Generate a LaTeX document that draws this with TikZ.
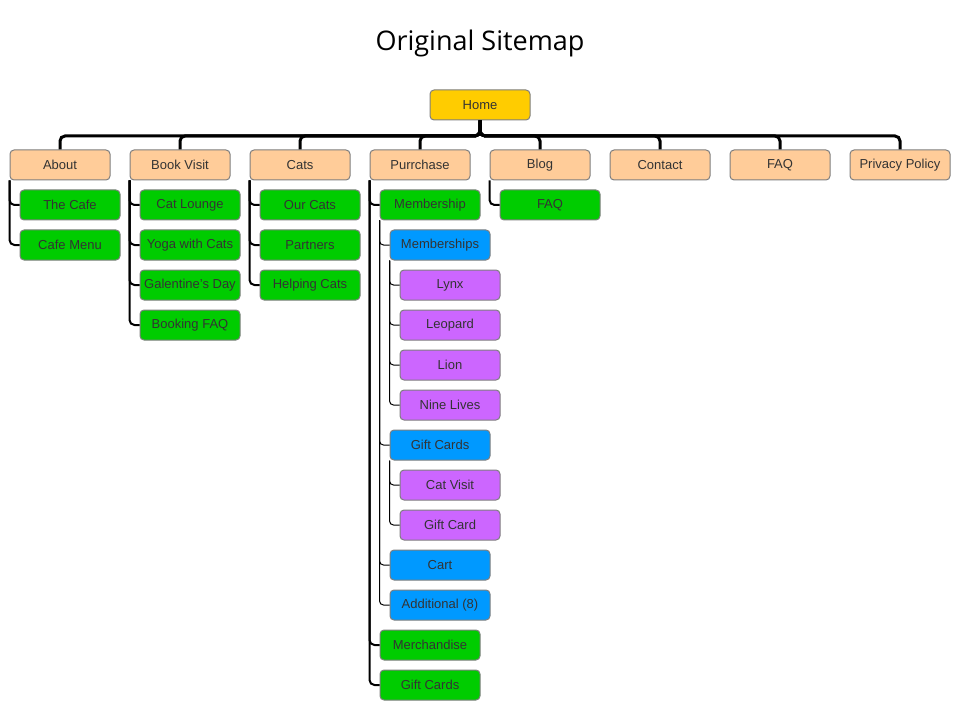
\documentclass[tikz,border=0pt]{standalone}
\usepackage{fontspec}
\setmainfont{Liberation Sans}
\newfontfamily\titlefont{Open Sans}
\usetikzlibrary{calc}
\definecolor{homefill}{HTML}{FFCC00}
\definecolor{topfill}{HTML}{FFCC99}
\definecolor{subfill}{HTML}{00CC00}
\definecolor{thirdfill}{HTML}{0099FF}
\definecolor{fourthfill}{HTML}{CC66FF}
\definecolor{boxline}{HTML}{7F7F7F}
\definecolor{boxtext}{HTML}{333333}
\tikzset{
  page/.style={draw=boxline,line width=1pt,rounded corners=4pt,minimum width=100pt,
    minimum height=30pt,inner sep=0pt,text=boxtext,font=\fontsize{13}{15}\selectfont},
  homepage/.style={page,fill=homefill},
  toppage/.style={page,fill=topfill},
  subpage/.style={page,fill=subfill},
  thirdpage/.style={page,fill=thirdfill},
  fourthpage/.style={page,fill=fourthfill},
  trunk/.style={line width=3pt,rounded corners=5pt},
  branch/.style={line width=2pt,rounded corners=5pt},
  twig/.style={line width=1pt,rounded corners=4pt}
}
\begin{document}
\begin{tikzpicture}[x=1pt,y=-1pt]
\useasboundingbox[fill=white] (0,0) rectangle (960,711);
\node[font=\titlefont\fontsize{27}{30}\selectfont] (title) at (480,43) {Original Sitemap};
\node[homepage] (home) at (480,105) {Home};
\coordinate (bar) at (480,136);
% top level
\foreach \n/\t [count=\i from 0] in {about/About,bookvisit/Book Visit,cats/Cats,purrchase/Purrchase,
  blog/Blog,contact/Contact,faq/FAQ,privacy/Privacy Policy}{
  \node[toppage] (\n) at (60+120*\i,165) {\t};
  \draw[trunk] (home.south) -- (bar) -| (\n.north);}
% second level
\node[subpage] (thecafe) at (70,205) {The Cafe};
\node[subpage] (cafemenu) at (70,245) {Cafe Menu};
\node[subpage] (catlounge) at (190,205) {Cat Lounge};
\node[subpage] (yoga) at (190,245) {Yoga with Cats};
\node[subpage] (galentine) at (190,285) {Galentine's Day};
\node[subpage] (bookingfaq) at (190,325) {Booking FAQ};
\node[subpage] (ourcats) at (310,205) {Our Cats};
\node[subpage] (partners) at (310,245) {Partners};
\node[subpage] (helping) at (310,285) {Helping Cats};
\node[subpage] (membership) at (430,205) {Membership};
\node[subpage] (merch) at (430,645) {Merchandise};
\node[subpage] (giftcardsg) at (430,685) {Gift Cards};
\node[subpage] (blogfaq) at (550,205) {FAQ};
\foreach \p/\c in {about/thecafe,about/cafemenu,bookvisit/catlounge,bookvisit/yoga,
  bookvisit/galentine,bookvisit/bookingfaq,cats/ourcats,cats/partners,cats/helping,
  purrchase/membership,purrchase/merch,purrchase/giftcardsg,blog/blogfaq}{
  \draw[branch] (\p.south west) |- (\c.west);}
% third level
\node[thirdpage] (memberships) at (440,245) {Memberships};
\node[thirdpage] (giftcardsb) at (440,445) {Gift Cards};
\node[thirdpage] (cart) at (440,565) {Cart};
\node[thirdpage] (additional) at (440,605) {Additional (8)};
\foreach \c in {memberships,giftcardsb,cart,additional}{
  \draw[twig] (membership.south west) |- (\c.west);}
% fourth level
\node[fourthpage] (lynx) at (450,285) {Lynx};
\node[fourthpage] (leopard) at (450,325) {Leopard};
\node[fourthpage] (lion) at (450,365) {Lion};
\node[fourthpage] (ninelives) at (450,405) {Nine Lives};
\node[fourthpage] (catvisit) at (450,485) {Cat Visit};
\node[fourthpage] (giftcard) at (450,525) {Gift Card};
\foreach \p/\c in {memberships/lynx,memberships/leopard,memberships/lion,memberships/ninelives,
  giftcardsb/catvisit,giftcardsb/giftcard}{
  \draw[twig] (\p.south west) |- (\c.west);}
\end{tikzpicture}
\end{document}
